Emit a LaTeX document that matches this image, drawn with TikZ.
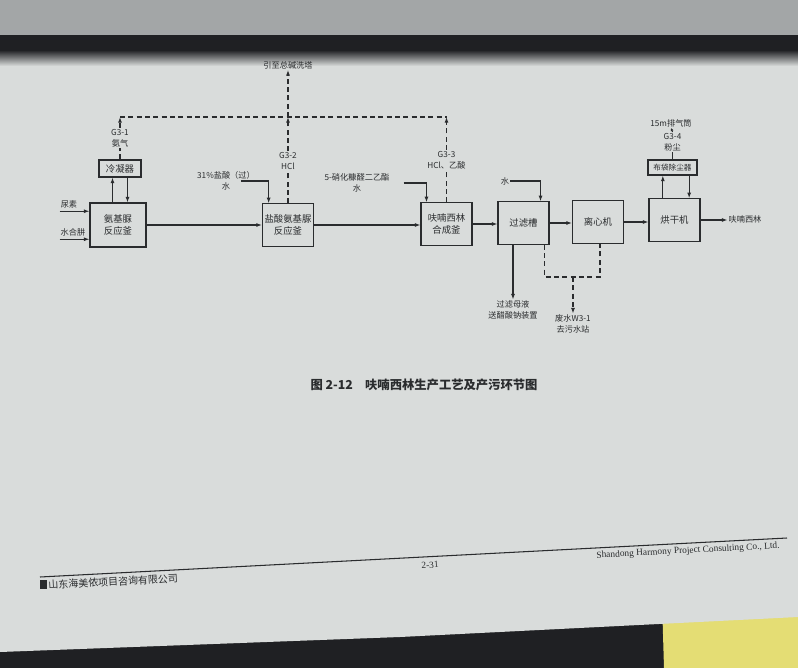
\documentclass[tikz,border=0pt]{standalone}
\usepackage{fontspec}
\setmainfont{Noto Sans CJK SC}
\newfontfamily\latinfont{Liberation Serif}
\usetikzlibrary{arrows.meta,positioning,calc}
\definecolor{ink}{HTML}{2A2C2E}
\definecolor{paper}{HTML}{D9DCDB}
\definecolor{shadow}{HTML}{1F2023}
\definecolor{leaf}{HTML}{A3A6A7}
\definecolor{note}{HTML}{E4DD74}
\begin{document}
\begin{tikzpicture}[x=0.03cm,y=-0.03cm,color=ink,line width=0.9pt,
font=\fontsize{8}{10.2}\selectfont,
proc/.style={draw,align=center,inner sep=1pt,minimum width=1.53cm,minimum height=1.27cm},
lab/.style={align=center,inner sep=0.5pt,font=\fontsize{7}{9.4}\selectfont},
arr/.style={-{Latex[length=1.7mm,width=1.2mm]}},
gas/.style={dash pattern=on 1.5mm off 1mm}]
\useasboundingbox (0,0) rectangle (798,668);
\fill[shadow] (0,0) rectangle (798,668);
\fill[note] (662,600) -- (798,600) -- (798,668) -- (664,668) -- cycle;
\fill[paper] (0,40) -- (798,40) -- (798,617) -- (400,637) -- (0,652) -- cycle;
\fill[leaf] (0,0) rectangle (798,35);
\fill[shadow] (0,35) rectangle (798,50);
\shade[top color=shadow,bottom color=paper] (0,50) rectangle (798,66);

\node[proc,minimum width=1.68cm,minimum height=1.32cm] (anj) at (118,225) {氨基脲\\反应釜};
\node[proc,minimum width=1.26cm,minimum height=0.51cm] (lnq) at (120,168.5) {冷凝器};
\node[proc] (ysj) at (288,225) {盐酸氨基脲\\反应釜};
\node[proc] (hcf) at (446.5,224) {呋喃西林\\合成釜};
\node[proc] (glc) at (523.5,223) {过滤槽};
\node[proc] (lxj) at (598,222) {离心机};
\node[proc] (hgj) at (674.5,220) {烘干机};
\node[proc,minimum width=1.47cm,minimum height=0.45cm,font=\fontsize{6.5}{8}\selectfont] (bdc) at (672.5,167.5) {布袋除尘器};

\node[lab] (urea) at (69,204) {尿素};
\node[lab] (hyd) at (73,232) {水合肼};
\node[lab] (g31) at (120,138) {G3-1\\氨气};
\node[lab] (g32) at (288,161) {G3-2\\HCl};
\node[lab] (g33) at (446.5,160) {G3-3\\HCl、乙酸};
\node[lab] (tower) at (288,65) {引至总碱洗塔};
\node[lab] (hcl) at (226,181) {31\%盐酸（过）\\水};
\node[lab] (nfd) at (357,183) {5-硝化糠醛二乙酯\\水};
\node[lab] (wat) at (505,181) {水};
\node[lab] (mother) at (513,310) {过滤母液\\送醋酸钠装置};
\node[lab] (waste) at (573,324) {废水W3-1\\去污水站};
\node[lab] (prod) at (745,219) {呋喃西林};
\node[lab] (g34) at (672.5,142) {G3-4\\粉尘};
\node[lab] (stack) at (671,123) {15m排气筒};
\coordinate (gl) at (120,117);
\coordinate (gm) at (288,117);
\coordinate (gr) at (446.5,117);
\coordinate (wj) at (573,277);

\draw[arr] ([yshift=-2pt]urea.south west) -- ([yshift=-2pt]urea.south west -| anj.west);
\draw[arr] ([yshift=-2pt]hyd.south west) -- ([yshift=-2pt]hyd.south west -| anj.west);
\draw[arr] ([xshift=-0.225cm]lnq.south |- anj.north) -- ([xshift=-0.225cm]lnq.south);
\draw[arr] ([xshift=0.225cm]lnq.south) -- ([xshift=0.225cm]lnq.south |- anj.north);
\draw[arr] (anj.east) -- (anj.east -| ysj.west);
\draw[arr] (ysj.east) -- (ysj.east -| hcf.west);
\draw[arr] (hcf.east) -- (hcf.east -| glc.west);
\draw[arr] (glc.east) -- (glc.east -| lxj.west);
\draw[arr] (lxj.east) -- (lxj.east -| hgj.west);
\draw[arr] (hgj.east) -- (hgj.east -| prod.west);
\draw[arr] ([xshift=-0.45cm]hcl.east) -| ([xshift=0.2cm]ysj.north west);
\draw[arr] ([xshift=0.39cm]nfd.east) -| ([xshift=0.18cm]hcf.north west);
\draw[arr] (wat.east) -| ([xshift=-0.27cm]glc.north east);
\draw[arr] (mother.north |- glc.south) -- (mother.north);
\draw[arr] ([xshift=-0.29cm]bdc.south |- hgj.north) -- ([xshift=-0.29cm]bdc.south);
\draw[arr] ([xshift=0.5cm]bdc.south) -- ([xshift=0.5cm]bdc.south |- hgj.north);
\draw (bdc.north) -- (g34.south);
\draw[-{Latex[length=0.9mm,width=0.9mm]}] (g34.north) -- (stack.south);

\draw[gas] (lnq.north) -- (g31.south);
\draw[gas,arr] (g31.north) -- (gl);
\draw[gas] (gl) -- (gr);
\draw[gas] (ysj.north) -- (g32.south);
\draw[gas,arr] (g32.north) -- (gm);
\draw[gas,arr] (gm) -- (tower.south);
\draw[gas] (hcf.north) -- (g33.south);
\draw[gas,arr] (g33.north) -- (gr);
\draw[gas] ([xshift=-0.15cm]glc.south east) |- (wj) -| ([xshift=0.06cm]lxj.south);
\draw[gas,arr] (wj) -- (waste.north);

\node[font=\fontsize{10.5}{12}\selectfont\bfseries] (cap) at (424,385) {图 2-12\quad 呋喃西林生产工艺及产污环节图};

\draw (40,577) -- (787,538);
\fill (40,580) rectangle (47,589);
\node[anchor=west,rotate=3,inner sep=0pt,font=\fontsize{8.5}{10}\selectfont] (firm) at (48,585) {山东海美侬项目咨询有限公司};
\node[rotate=3,inner sep=0pt,font=\latinfont\fontsize{8}{10}\selectfont] (page) at (430,565) {2-31};
\node[rotate=3,inner sep=0pt,font=\latinfont\fontsize{8}{10}\selectfont] (eng) at (688,551) {Shandong Harmony Project Consulting Co., Ltd.};
\end{tikzpicture}
\end{document}
